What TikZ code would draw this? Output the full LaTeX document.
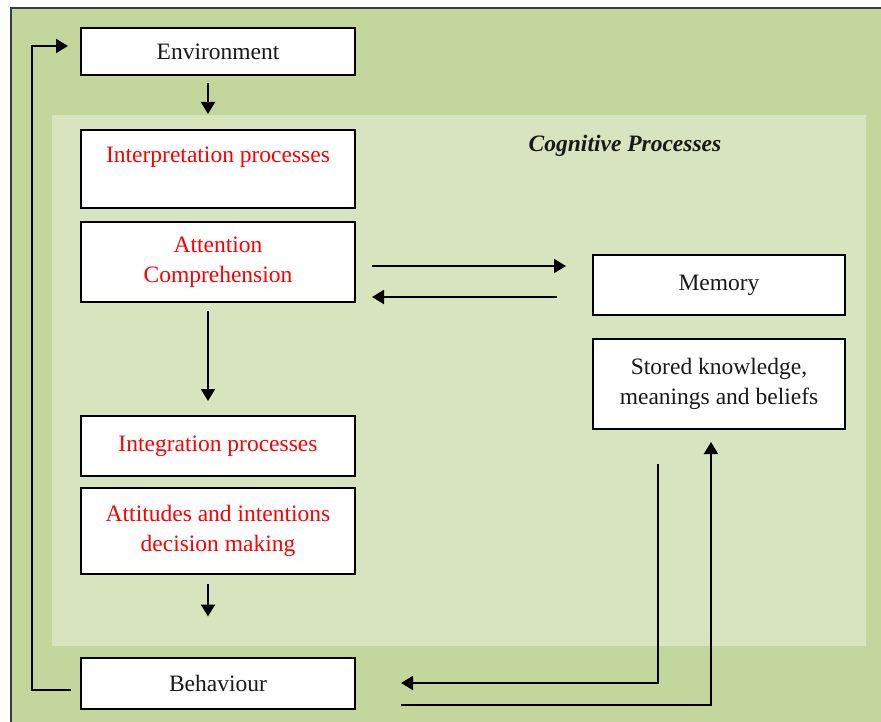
\documentclass[tikz,border=0pt]{standalone}
\usepackage{fontspec}
\setmainfont{Liberation Serif}
\usetikzlibrary{arrows.meta,calc}
\definecolor{outergreen}{HTML}{C3D69B}
\definecolor{innergreen}{HTML}{D7E4BD}
\definecolor{framegray}{HTML}{3A3A3A}
\definecolor{redtext}{HTML}{FF0000}
\tikzset{
  box/.style={draw=black, line width=2pt, fill=white, minimum width=274pt,
    inner sep=0pt, align=center, font=\fontsize{23.5}{30}\selectfont, text=black!90},
  rbox/.style={box, text=redtext},
  sbox/.style={box, minimum width=252pt},
  arr/.style={draw=black, line width=2pt, -{Triangle[length=12pt,width=14pt]}}
}
\begin{document}
\begin{tikzpicture}[x=1pt,y=-1pt]
\useasboundingbox (0,0) rectangle (881,722);
% backgrounds
\fill[outergreen] (11,8) rectangle (881,722);
\draw[framegray, line width=2.6pt] (11,722) -- (11,8) -- (881,8);
\fill[innergreen] (52,115) rectangle (866,646);
\node[font=\fontsize{23.5}{28}\selectfont\bfseries\itshape, text=black!90] (title) at (625,146) {Cognitive Processes};

% process boxes
\node[box, minimum height=47pt] (env) at (218,51.5) {Environment};
\node[rbox, minimum height=78pt, text depth=28pt] (interp) at (218,169) {Interpretation processes};
\node[rbox, minimum height=80pt] (attn) at (218,262) {Attention\\Comprehension};
\node[rbox, minimum height=60pt] (integ) at (218,446) {Integration processes};
\node[rbox, minimum height=86pt] (att) at (218,531) {Attitudes and intentions\\decision making};
\node[box, minimum height=51pt] (beh) at (218,683) {Behaviour};
\node[sbox, minimum height=60pt] (mem) at (719,285) {Memory};
\node[sbox, minimum height=90pt] (stored) at (719,384) {Stored knowledge,\\meanings and beliefs};

% connectors
\draw[arr] ($(env.south)+(-10,7)$) -- ($(interp.north)+(-10,-15)$);
\draw[arr] ($(attn.east)+(16,4)$) -- ($(mem.west)+(-26,-19)$);
\draw[arr] ($(mem.west)+(-35,12)$) -- ($(attn.east)+(16,35)$);
\draw[arr] ($(attn.south)+(-10,8)$) -- ($(integ.north)+(-10,-14)$);
\draw[arr] ($(att.south)+(-10,9)$) -- ($(beh.north)+(-10,-40)$);
\draw[arr] ($(beh.west)+(-9,7)$) -| ($(env.west)+(-48,-5.5)$) -- ($(env.west)+(-12,-5.5)$);
\draw[arr] ($(stored.south)+(-61,34)$) |- ($(beh.east)+(45,0)$);
\draw[arr] ($(beh.east)+(45,22)$) -| ($(stored.south)+(-8,12)$);
\end{tikzpicture}
\end{document}
